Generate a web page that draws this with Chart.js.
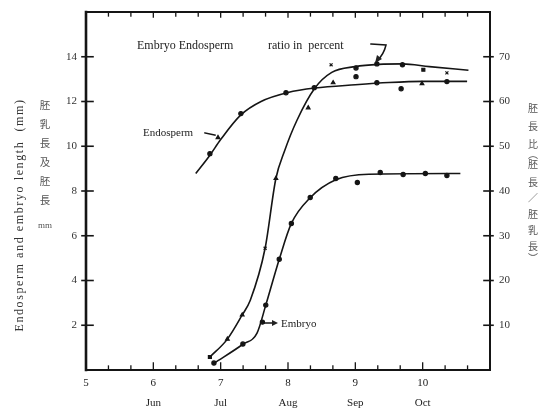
<!DOCTYPE html>
<html><head><meta charset="utf-8">
<script src="https://cdn.jsdelivr.net/npm/chart.js@4/dist/chart.umd.min.js"></script>
<style>html,body{margin:0;padding:0;background:#fff;}#wrap{width:548px;height:412px;position:relative;}</style>
</head><body><div id="wrap"><canvas id="c" width="548" height="412"></canvas></div>
<script>
// ---- data ----
const monthLabels = {6:'Jun',7:'Jul',8:'Aug',9:'Sep',10:'Oct'};
const leftTicks = [2,4,6,8,10,12,14];
const rightTicks = [10,20,30,40,50,60,70];

const endoX = [6.84,6.96,7.30,7.97,8.39,8.67,9.01,9.32,9.68,9.99,10.36];
const endoY = [9.67,10.39,11.46,12.39,12.62,12.84,13.11,12.84,12.57,12.80,12.89];
const endoStyles = ['circle','triangle','circle','circle','circle','triangle','circle','circle','circle','triangle','circle'];
const endoCurveX = [6.63,6.84,7.0,7.3,7.6,8.0,8.4,9.0,9.5,10.0,10.66];
const endoCurveY = [8.78,9.6,10.3,11.4,12.0,12.4,12.6,12.75,12.85,12.9,12.9];

const embX = [6.90,7.33,7.62,7.67,7.87,8.05,8.33,8.71,9.03,9.37,9.71,10.04,10.36];
const embY = [0.31,1.16,2.14,2.90,4.95,6.55,7.71,8.56,8.38,8.83,8.74,8.78,8.69];
const embCurveX = [6.90,7.33,7.54,7.67,7.87,8.05,8.33,8.71,9.2,10.56];
const embCurveY = [0.3,1.15,1.65,2.9,4.95,6.55,7.7,8.5,8.75,8.78];

const ratioX = [6.84,7.10,7.32,7.66,7.82,8.30,8.64,9.01,9.32,9.70,10.01,10.36];
const ratioY = [2.9,6.9,12.3,27.2,42.8,58.6,68.2,67.5,68.4,68.2,67.1,66.4];
const ratioStyles = ['rect','triangle','triangle','crossRot','triangle','triangle','crossRot','circle','circle','circle','rect','crossRot'];
const ratioCurveX = [6.84,7.10,7.32,7.44,7.66,7.82,7.95,8.13,8.40,8.65,9.0,9.35,9.7,10.1,10.68];
const ratioCurveY = [2.9,6.9,12.3,15.6,27.2,42.8,49,55.7,63,66.5,67.8,68.3,68.4,67.8,67];

const leftJa = ['胚','乳','長','及','胚','長'];
const rightJa = ['胚','長','比','︵','胚','長','／','胚','乳','長','︶'];

// ---- chart ----
const pts = (xs, ys) => xs.map((x, i) => ({x, y: ys[i]}));
const INK = '#151515';
const SERIF = '"Liberation Serif", "DejaVu Serif", serif';

function curve(data, axis) {
  return {type:'line', data, yAxisID: axis, borderColor: INK, borderWidth: 1.6,
    pointRadius: 0, cubicInterpolationMode: 'monotone', fill: false, order: 2};
}
function marks(data, axis, style) {
  return {type:'scatter', data, yAxisID: axis, pointStyle: style, pointRadius: 2.1,
    backgroundColor: INK, borderColor: INK, borderWidth: 1.2, showLine: false, order: 1};
}
function noPad(s) { s.paddingTop = 0; s.paddingBottom = 0; s.paddingLeft = 0; s.paddingRight = 0; }

const framePlugin = {
  id: 'frame',
  afterDraw(chart) {
    const ctx = chart.ctx, a = chart.chartArea;
    const sx = chart.scales.x, sy = chart.scales.y, sr = chart.scales.y2;
    ctx.save();
    ctx.strokeStyle = INK; ctx.lineCap = 'square';
    // frame
    ctx.lineWidth = 2.6;
    ctx.beginPath(); ctx.moveTo(a.left, a.top); ctx.lineTo(a.left, a.bottom); ctx.stroke();
    ctx.lineWidth = 2;
    ctx.beginPath(); ctx.moveTo(a.left, a.bottom); ctx.lineTo(a.right, a.bottom);
    ctx.lineTo(a.right, a.top); ctx.lineTo(a.left, a.top); ctx.stroke();
    // y ticks
    ctx.lineWidth = 1.6;
    leftTicks.forEach(v => { const p = sy.getPixelForValue(v);
      ctx.beginPath(); ctx.moveTo(a.left - 4, p); ctx.lineTo(a.left + 7, p); ctx.stroke(); });
    rightTicks.forEach(v => { const p = sr.getPixelForValue(v);
      ctx.beginPath(); ctx.moveTo(a.right - 6, p); ctx.lineTo(a.right + 3, p); ctx.stroke(); });
    // x ticks (every 10 days = 1/3 month)
    ctx.lineWidth = 1.3;
    for (let k = 0; k <= 18; k++) {
      const v = 5 + k / 3; const p = sx.getPixelForValue(v);
      const major = k % 3 === 0;
      ctx.beginPath(); ctx.moveTo(p, a.bottom); ctx.lineTo(p, a.bottom - (major ? 7 : 4)); ctx.stroke();
      ctx.beginPath(); ctx.moveTo(p, a.top); ctx.lineTo(p, a.top + (major ? 5 : 4)); ctx.stroke();
    }
    // month names under the tick numbers
    ctx.fillStyle = '#222'; ctx.textAlign = 'center'; ctx.textBaseline = 'middle';
    ctx.font = '11px ' + SERIF;
    Object.keys(monthLabels).forEach(k => ctx.fillText(monthLabels[k], sx.getPixelForValue(+k), 403));
    // annotations
    ctx.font = '12px ' + SERIF;
    ctx.textAlign = 'left';
    ctx.fillText('Embryo Endosperm', 137, 46);
    ctx.fillText('ratio in  percent', 268, 46);
    ctx.lineWidth = 1.5;
    ctx.beginPath(); ctx.moveTo(371, 44); ctx.lineTo(386, 45);
    ctx.quadraticCurveTo(384, 54, 377, 61); ctx.stroke();
    ctx.beginPath(); ctx.moveTo(375, 63); ctx.lineTo(377, 55); ctx.lineTo(382, 59); ctx.closePath(); ctx.fill();
    ctx.font = '11px ' + SERIF;
    ctx.fillText('Endosperm', 143, 133);
    ctx.beginPath(); ctx.moveTo(205, 133); ctx.lineTo(215, 135); ctx.stroke();
    ctx.fillText('Embryo', 281, 324);
    ctx.beginPath(); ctx.moveTo(264, 323); ctx.lineTo(274, 323); ctx.stroke();
    ctx.beginPath(); ctx.moveTo(278, 323); ctx.lineTo(272, 320); ctx.lineTo(272, 326); ctx.closePath(); ctx.fill();
    // left axis title
    ctx.save(); ctx.translate(20, 215); ctx.rotate(-Math.PI / 2);
    ctx.textAlign = 'center'; ctx.font = '12px ' + SERIF; ctx.fillStyle = '#333';
    ctx.letterSpacing = '1.6px';
    ctx.fillText('Endosperm and embryo length  (mm)', 0, 0);
    ctx.restore();
    // Japanese columns
    ctx.textAlign = 'center'; ctx.fillStyle = '#555';
    ctx.font = '10.5px "Noto Sans CJK JP"';
    leftJa.forEach((c, i) => ctx.fillText(c, 45, 105 + i * 19));
    ctx.font = '9px ' + SERIF; ctx.fillText('mm', 45, 226);
    ctx.font = '10px "Noto Sans CJK JP"';
    const ry = [108,126,144,154,164,182,198,214,230,246,258];
    rightJa.forEach((c, i) => ctx.fillText(c, 533, ry[i]));
    ctx.restore();
  }
};

new Chart(document.getElementById('c'), {
  data: {datasets: [
    curve(pts(endoCurveX, endoCurveY), 'y'),
    marks(pts(endoX, endoY), 'y', endoStyles),
    curve(pts(embCurveX, embCurveY), 'y'),
    marks(pts(embX, embY), 'y', 'circle'),
    curve(pts(ratioCurveX, ratioCurveY), 'y2'),
    marks(pts(ratioX, ratioY), 'y2', ratioStyles)
  ]},
  options: {
    responsive: false, animation: false, devicePixelRatio: 1,
    layout: {padding: {top: 12, left: 0, right: 0, bottom: 0}},
    plugins: {legend: {display: false}, tooltip: {enabled: false}},
    scales: {
      x: {type: 'linear', position: 'bottom', min: 5, max: 11,
        grid: {display: false, drawTicks: false, tickLength: 0}, border: {display: false},
        ticks: {stepSize: 1, maxRotation: 0, padding: 7, color: '#222',
          font: {family: SERIF, size: 11},
          callback: v => v === 11 ? '' : String(v)},
        afterFit: s => { noPad(s); s.height = 42; }},
      y: {type: 'linear', position: 'left', min: 0, max: 16,
        grid: {display: false, drawTicks: false, tickLength: 0}, border: {display: false},
        ticks: {stepSize: 2, padding: 9, color: '#333', font: {family: SERIF, size: 11},
          callback: v => (v === 0 || v === 16) ? '' : String(v)},
        afterFit: s => { noPad(s); s.width = 86; }},
      y2: {type: 'linear', position: 'right', min: 0, max: 80,
        grid: {display: false, drawTicks: false, tickLength: 0}, border: {display: false},
        ticks: {stepSize: 10, padding: 9, color: '#333', font: {family: SERIF, size: 11},
          callback: v => (v === 0 || v === 80) ? '' : String(v)},
        afterFit: s => { noPad(s); s.width = 58; }}
    }
  },
  plugins: [framePlugin]
});
</script></body></html>
